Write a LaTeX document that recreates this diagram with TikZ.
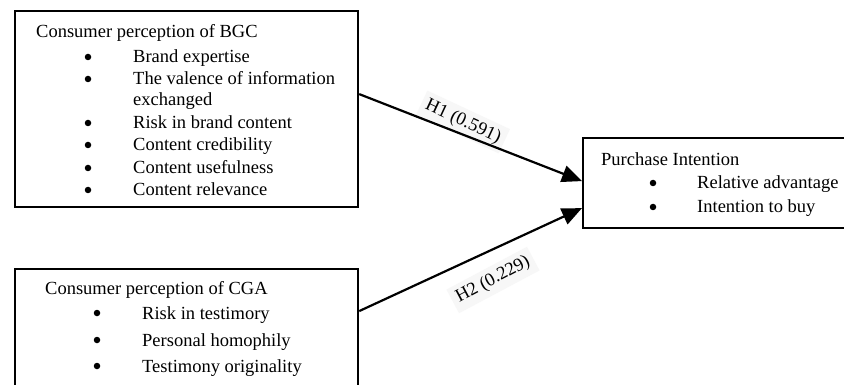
\documentclass[tikz,border=0pt]{standalone}
\usepackage{fontspec}
\setmainfont{Liberation Serif}
\usetikzlibrary{arrows.meta}
\begin{document}
\begin{tikzpicture}[x=1pt,y=-1pt,
  box/.style={draw=black,line width=2.2pt,rectangle,inner sep=0pt,anchor=north west},
  txt/.style={anchor=base west,inner sep=0pt,font=\fontsize{18.5}{22}\selectfont},
  bul/.style={circle,fill=black,inner sep=0pt,minimum size=6.5pt},
  conn/.style={line width=2.2pt,-{Triangle[length=20pt,width=17pt]}},
  lbl/.style={inner sep=5pt,fill=black!3,font=\fontsize{18.5}{22}\selectfont}]
\clip (0,0) rectangle (844,385);
\fill[white] (0,0) rectangle (844,385);
% boxes
\node[box,minimum width=343pt,minimum height=196pt] (bgc) at (14,10) {};
\node[box,minimum width=343pt,minimum height=132pt] (cga) at (14,268) {};
\node[box,minimum width=280pt,minimum height=90pt] (pi) at (582,137) {};
% BGC text
\node[txt] (t1) at (36,38) {Consumer perception of BGC};
\node[bul] (b11) at (88,57) {};
\node[txt] (t11) at (133,63) {Brand expertise};
\node[bul] (b12) at (88,79) {};
\node[txt] (t12) at (133,85) {The valence of information};
\node[txt] (t12b) at (133,106) {exchanged};
\node[bul] (b13) at (88,123) {};
\node[txt] (t13) at (133,129) {Risk in brand content};
\node[bul] (b14) at (88,145) {};
\node[txt] (t14) at (133,151) {Content credibility};
\node[bul] (b15) at (88,168) {};
\node[txt] (t15) at (133,174) {Content usefulness};
\node[bul] (b16) at (88,190) {};
\node[txt] (t16) at (133,196) {Content relevance};
% CGA text
\node[txt] (t2) at (45,294) {Consumer perception of CGA};
\node[bul] (b21) at (97,313) {};
\node[txt] (t21) at (142,319) {Risk in testimory};
\node[bul] (b22) at (97,340) {};
\node[txt] (t22) at (142,346) {Personal homophily};
\node[bul] (b23) at (97,366) {};
\node[txt] (t23) at (142,372) {Testimony originality};
% PI text
\node[txt] (t3) at (601,166) {Purchase Intention};
\node[bul] (b31) at (653,183) {};
\node[txt] (t31) at (697,189) {Relative advantage};
\node[bul] (b32) at (653,207) {};
\node[txt] (t32) at (697,213) {Intention to buy};
% labels
\node[lbl,rotate=-25] (h1) at (463,122) {H1 (0.591)};
\node[lbl,rotate=28] (h2) at (493,280) {H2 (0.229)};
% connectors
\draw[conn] ([yshift=15pt]bgc.east) -- ([yshift=2pt]pi.west);
\draw[conn] ([yshift=24pt]cga.east) -- ([yshift=-25pt]pi.west);
\end{tikzpicture}
\end{document}
